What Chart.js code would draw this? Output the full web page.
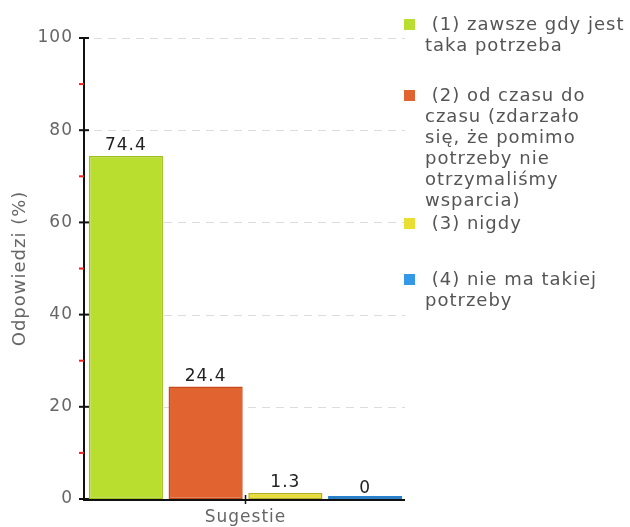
<!DOCTYPE html>
<html>
<head>
<meta charset="utf-8">
<script src="https://cdn.jsdelivr.net/npm/chart.js@4"></script>
<style>
  html, body { margin: 0; padding: 0; background: #fff; }
  #wrap { width: 630px; height: 527px; }
</style>
</head>
<body>
<div id="wrap"><canvas id="chart" width="630" height="527"></canvas></div>
<script>
// data
const categories = ["Sugestie"];
const seriesLines = [
    [" (1) zawsze gdy jest", "taka potrzeba"],
    [" (2) od czasu do", "czasu (zdarzało", "się, że pomimo", "potrzeby nie", "otrzymaliśmy", "wsparcia)"],
    [" (3) nigdy"],
    [" (4) nie ma takiej", "potrzeby"],
];
const seriesValues = [74.4, 24.4, 1.3, 0];
const yMajorTicks = [0, 20, 40, 60, 80, 100];
const yMinorTicks = [10, 30, 50, 70, 90];

const fillColors = ["#bade2f", "#e06330", "#e8df32", "#3399e6"];
const borderColors = ["#9cbf1a", "#c24a1b", "#b5ad1c", "#2a80c8"];
const legendTops = [19, 90, 218, 274];

const FONT = "'DejaVu Sans', Verdana, sans-serif";

// letter spacing is lost whenever the canvas is resized, so set it again
const spacingPlugin = {
    id: "spacing",
    beforeUpdate(chart) { chart.ctx.letterSpacing = "1px"; },
    beforeDraw(chart) { chart.ctx.letterSpacing = "1px"; },
};

// axis lines, dashed grid and tick marks
const axisPlugin = {
    id: "axisDecor",
    beforeDatasetsDraw(chart) {
        const { ctx, chartArea } = chart;
        const y = chart.scales.y;
        const x = chart.scales.x;
        const axisX = chartArea.left - 2;
        ctx.save();

        ctx.strokeStyle = "#dcdcdc";
        ctx.lineWidth = 1;
        ctx.setLineDash([8, 6]);
        yMajorTicks.forEach((v) => {
            if (v === 0) return;
            const py = Math.round(y.getPixelForValue(v)) + 0.5;
            ctx.beginPath();
            ctx.moveTo(axisX + 10, py);
            ctx.lineTo(chartArea.right, py);
            ctx.stroke();
        });
        ctx.setLineDash([]);

        ctx.strokeStyle = "#111";
        ctx.lineWidth = 2;
        ctx.beginPath();
        ctx.moveTo(axisX, y.getPixelForValue(100) - 1);
        ctx.lineTo(axisX, chartArea.bottom + 1);
        ctx.lineTo(chartArea.right, chartArea.bottom + 1);
        ctx.stroke();

        yMajorTicks.forEach((v) => {
            const py = y.getPixelForValue(v);
            ctx.beginPath();
            ctx.moveTo(axisX - 5, py);
            ctx.lineTo(axisX + 5, py);
            ctx.stroke();
        });

        ctx.strokeStyle = "#ff1a1a";
        yMinorTicks.forEach((v) => {
            const py = y.getPixelForValue(v);
            ctx.beginPath();
            ctx.moveTo(axisX - 5, py);
            ctx.lineTo(axisX, py);
            ctx.stroke();
        });

        ctx.strokeStyle = "#111";
        ctx.lineWidth = 1.5;
        const cx = x.getPixelForValue(0);
        ctx.beginPath();
        ctx.moveTo(cx, chartArea.bottom - 4);
        ctx.lineTo(cx, chartArea.bottom + 5);
        ctx.stroke();
        ctx.restore();
    },
};

// value labels over the bars
const valuePlugin = {
    id: "values",
    afterDatasetsDraw(chart) {
        const { ctx } = chart;
        const y = chart.scales.y;
        ctx.save();
        ctx.font = "17px " + FONT;
        ctx.fillStyle = "#222";
        ctx.textAlign = "center";
        ctx.textBaseline = "alphabetic";
        chart.data.datasets.forEach((ds, i) => {
            const bar = chart.getDatasetMeta(i).data[0];
            const v = ds.data[0];
            ctx.fillText(String(v), bar.x, y.getPixelForValue(v) - 6);
        });
        ctx.restore();
    },
};

// wrapped legend on the right
const legendPlugin = {
    id: "sideLegend",
    afterDraw(chart) {
        const { ctx } = chart;
        ctx.save();
        ctx.font = "18px " + FONT;
        ctx.fillStyle = "#555";
        ctx.textAlign = "left";
        ctx.textBaseline = "alphabetic";
        seriesLines.forEach((lines, i) => {
            const top = legendTops[i];
            ctx.fillStyle = fillColors[i];
            ctx.fillRect(404, top, 11, 11);
            ctx.fillStyle = "#555";
            lines.forEach((line, k) => {
                ctx.fillText(line, 425, top + 11 + k * 21);
            });
        });
        ctx.restore();
    },
};

const datasets = seriesValues.map((v, i) => ({
    label: seriesLines[i].join(" ").trim(),
    data: [v],
    backgroundColor: fillColors[i],
    borderColor: borderColors[i],
    borderWidth: 1.5,
    borderSkipped: false,
    barPercentage: 0.93,
    categoryPercentage: 1,
    minBarLength: 3,
}));

new Chart(document.getElementById("chart"), {
    type: "bar",
    data: { labels: categories, datasets },
    plugins: [spacingPlugin, axisPlugin, valuePlugin, legendPlugin],
    options: {
        responsive: false,
        animation: false,
        layout: { padding: { left: 0, right: 225, top: 38, bottom: 0 } },
        plugins: { legend: { display: false }, tooltip: { enabled: false } },
        scales: {
            x: {
                grid: { display: false, drawTicks: false },
                border: { display: false },
                ticks: { color: "#666", font: { family: FONT, size: 17 }, padding: 8 },
                afterFit(s) { s.height = 28; },
            },
            y: {
                min: 0,
                max: 100,
                grid: { display: false, drawTicks: false },
                border: { display: false },
                ticks: { stepSize: 20, color: "#666", font: { family: FONT, size: 17 }, padding: 13 },
                title: {
                    display: true,
                    text: "Odpowiedzi (%)",
                    color: "#666",
                    font: { family: FONT, size: 18 },
                    padding: { top: 10, bottom: 0 },
                },
                afterFit(s) { s.width = 86; },
            },
        },
    },
});
</script>
</body>
</html>
